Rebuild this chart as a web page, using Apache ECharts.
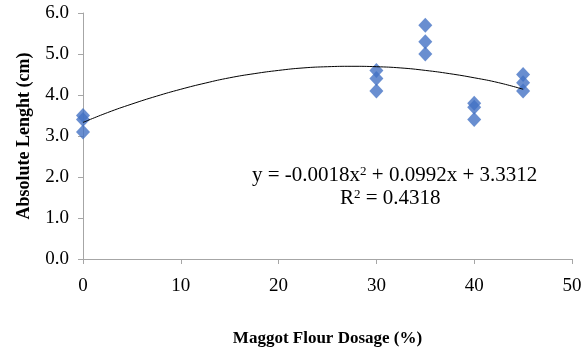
<!DOCTYPE html>
<html>
<head>
<meta charset="utf-8">
<script src="https://cdn.jsdelivr.net/npm/echarts@6/dist/echarts.min.js"></script>
<style>
  html, body { margin: 0; padding: 0; background: #fff; }
  #chart { width: 581px; height: 348px; }
</style>
</head>
<body>
<div id="chart"></div>
<script>
// measured points (dosage %, absolute length cm)
const dosage = [0, 0, 0, 30, 30, 30, 35, 35, 35, 40, 40, 40, 45, 45, 45]
const lengthCm = [3.5, 3.4, 3.1, 4.6, 4.4, 4.1, 5.7, 5.3, 5.0, 3.8, 3.7, 3.4, 4.5, 4.3, 4.1]

// polynomial trend curve
const trendX = [0, 2.5, 5, 7.5, 10, 12.5, 15, 17.5, 20, 22.5, 25, 27.5, 30, 32.5, 35, 37.5, 40, 42.5, 45]
const trendY = [3.33, 3.57, 3.78, 3.97, 4.14, 4.29, 4.42, 4.52, 4.60, 4.66, 4.69, 4.70, 4.69, 4.66, 4.60, 4.52, 4.42, 4.30, 4.14]

const eqText = 'y = -0.0018x{s|2} + 0.0992x + 3.3312'
const r2Text = 'R{s|2} = 0.4318'

const chart = echarts.init(document.getElementById('chart'))
const serif = '"Liberation Serif", "Times New Roman", serif'
const axisGrey = '#a6a6a6'

const option = {
  animation: false,
  grid: { left: 83, right: 9, top: 13, bottom: 89, outerBoundsMode: 'none', containLabel: false },
  xAxis: {
    type: 'value',
    min: 0,
    max: 50,
    interval: 10,
    name: 'Maggot Flour Dosage (%)',
    nameLocation: 'middle',
    nameGap: 71,
    nameTextStyle: { fontFamily: serif, fontWeight: 'bold', fontSize: 17, color: '#000' },
    axisLine: { show: true, lineStyle: { color: axisGrey } },
    axisTick: { show: true, length: 5, lineStyle: { color: axisGrey } },
    axisLabel: { fontFamily: serif, fontSize: 19, color: '#000', margin: 18 },
    splitLine: { show: false }
  },
  yAxis: {
    type: 'value',
    min: 0,
    max: 6,
    interval: 1,
    name: 'Absolute Lenght (cm)',
    nameLocation: 'middle',
    nameGap: 50,
    nameRotate: 90,
    nameTextStyle: { fontFamily: serif, fontWeight: 'bold', fontSize: 18, color: '#000' },
    axisLine: { show: true, lineStyle: { color: axisGrey } },
    axisTick: { show: true, length: 5, lineStyle: { color: axisGrey } },
    axisLabel: {
      fontFamily: serif, fontSize: 19, color: '#000', margin: 14,
      formatter: v => v.toFixed(1)
    },
    splitLine: { show: false }
  },
  series: [
    {
      type: 'line',
      data: trendX.map((x, i) => [x, trendY[i]]),
      smooth: true,
      symbol: 'none',
      lineStyle: { color: '#000', width: 1 },
      z: 3
    },
    {
      type: 'scatter',
      data: dosage.map((x, i) => [x, lengthCm[i]]),
      symbol: 'diamond',
      symbolSize: [14, 15],
      itemStyle: { color: '#4472c4' },
      z: 2
    }
  ],
  graphic: [
    {
      type: 'text',
      left: 252,
      top: 165,
      style: {
        text: eqText,
        fontFamily: serif,
        fontSize: 21,
        fill: '#000',
        rich: { s: { fontFamily: serif, fontSize: 13, verticalAlign: 'top', padding: [0, 0, 8, 0] } }
      }
    },
    {
      type: 'text',
      left: 340,
      top: 188,
      style: {
        text: r2Text,
        fontFamily: serif,
        fontSize: 21,
        fill: '#000',
        rich: { s: { fontFamily: serif, fontSize: 13, verticalAlign: 'top', padding: [0, 0, 8, 0] } }
      }
    }
  ]
}
chart.setOption(option)
</script>
</body>
</html>
